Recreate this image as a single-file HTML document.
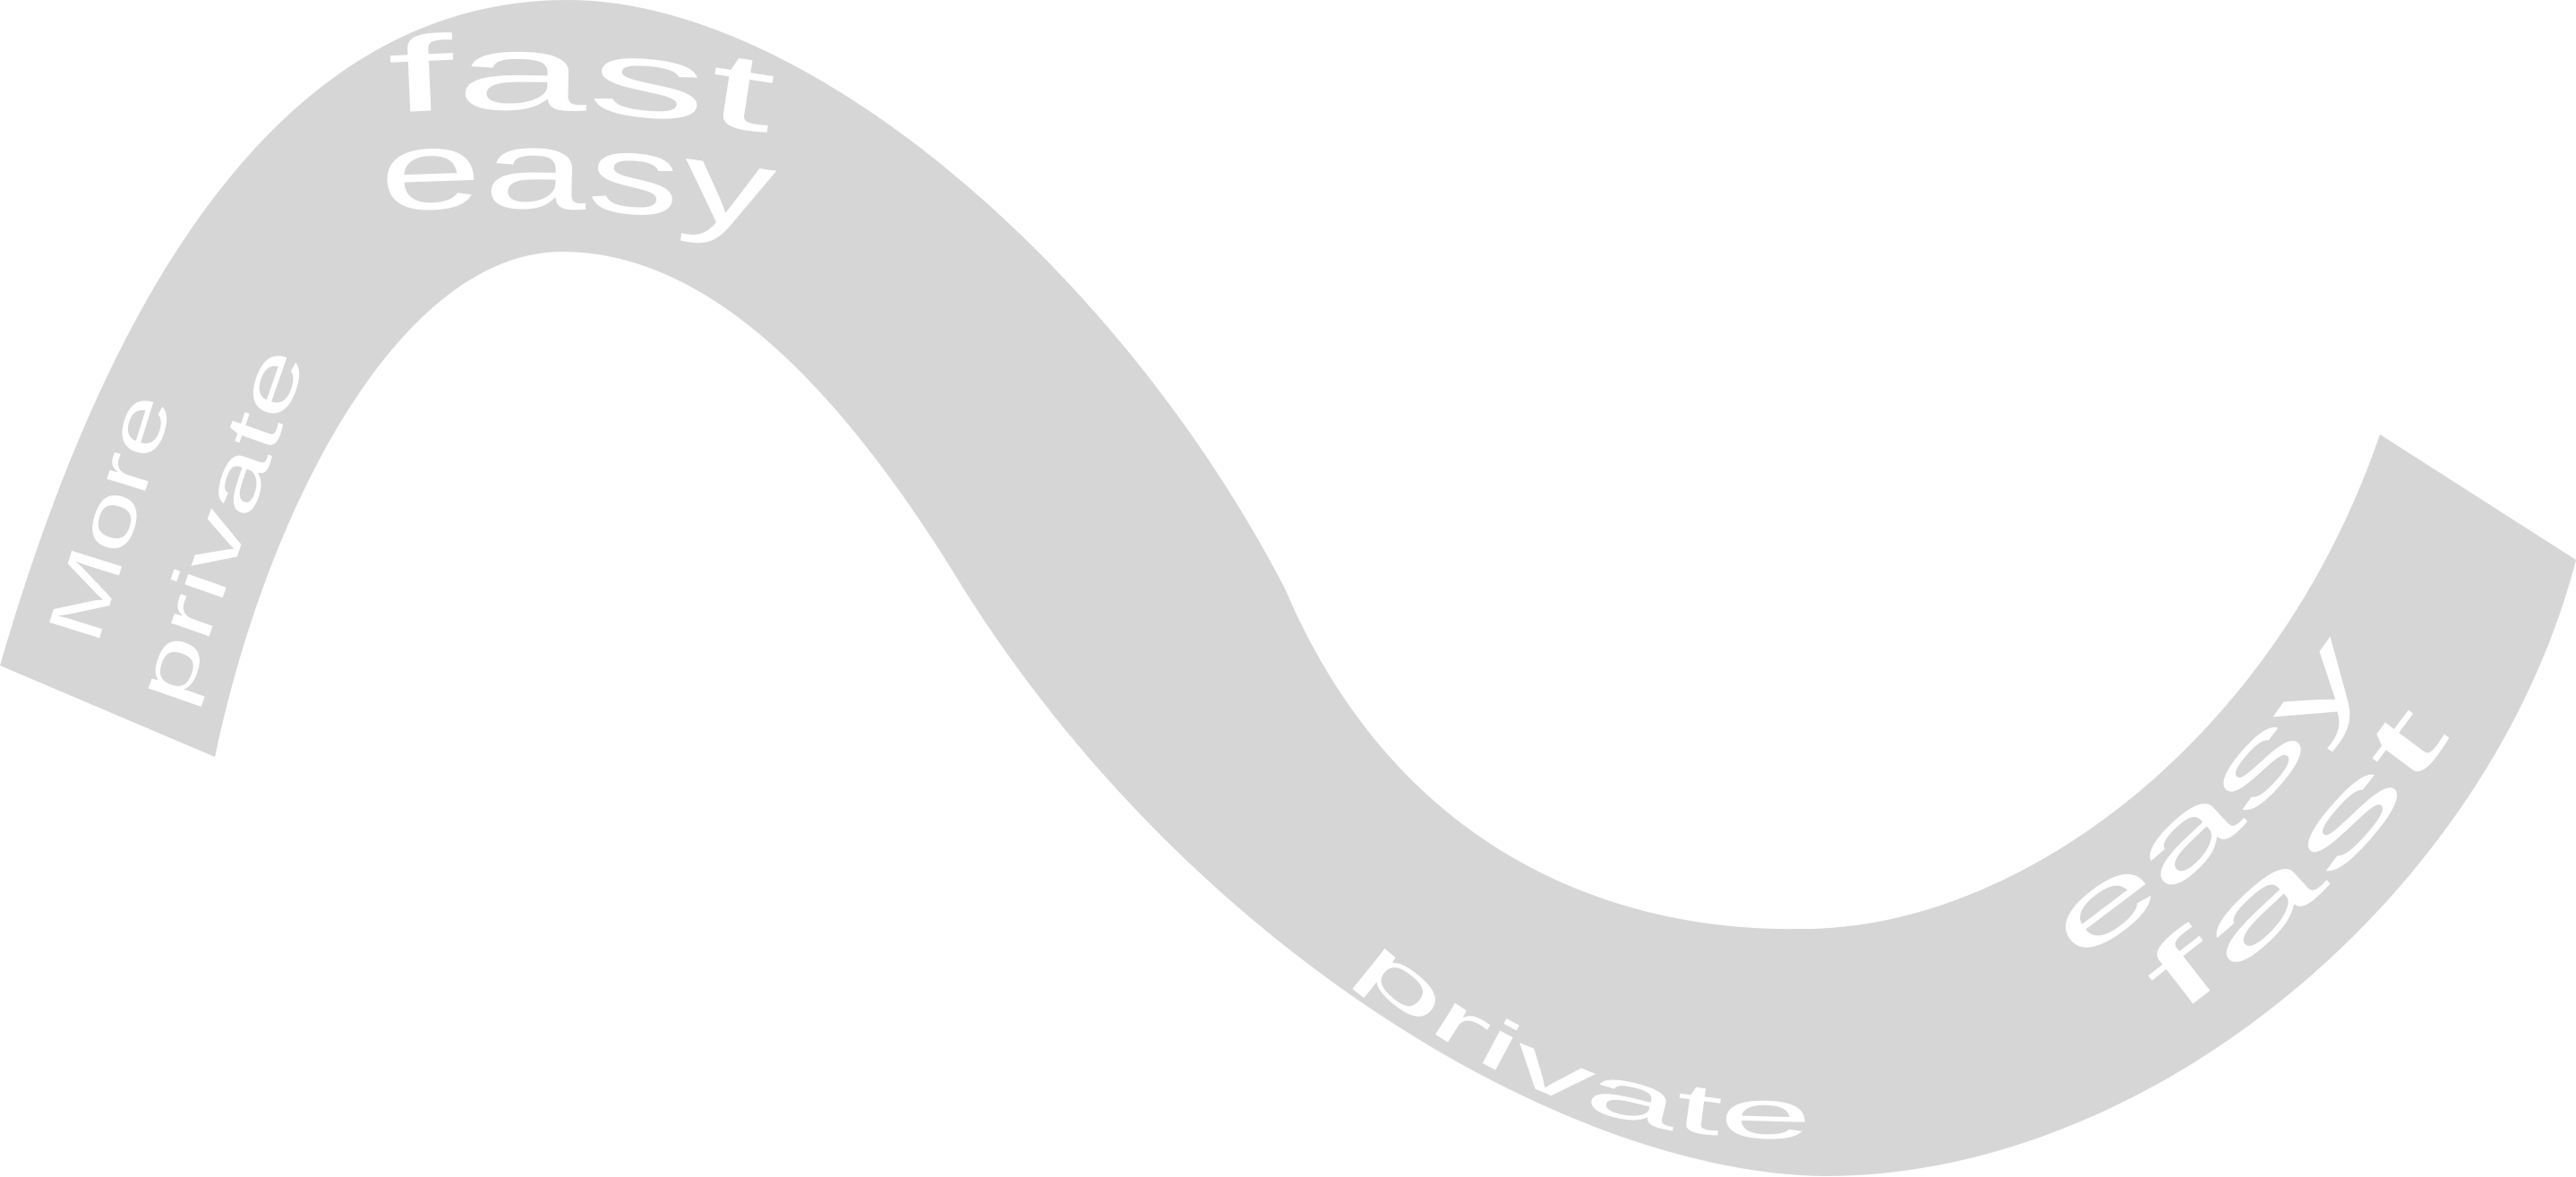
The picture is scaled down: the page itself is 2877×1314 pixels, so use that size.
<!DOCTYPE html>
<html>
<head>
<meta charset="utf-8">
<style>
  html,body{margin:0;padding:0;background:#fff;}
  svg{display:block;}
  text{font-family:"Liberation Sans",sans-serif;fill:#fff;}
</style>
</head>
<body>
<svg id="chart" width="2877" height="1314" viewBox="0 0 2877 1314" xmlns="http://www.w3.org/2000/svg">
  <path id="ribbon" fill="#d6d6d6"
    d="M 0 743
       C 140 260 350 0 634 0
       C 900 0 1250 300 1435 657
       C 1560 950 1800 1040 2009 1037
       C 2250 1040 2540 830 2658 485
       L 2877 625
       C 2780 1000 2400 1313 2039 1313
       C 1750 1310 1330 1060 1076 657
       C 950 450 800 281 628 281
       C 450 281 300 560 240 845
       Z"/>
  <defs>
    <path id="p-fast-top" d="M 435 126 Q 650 112 865 150"/>
    <path id="p-easy-top" d="M 425 236 Q 650 222 865 258"/>
    <path id="p-more" d="M 108 722 L 196 440"/>
    <path id="p-private-left" d="M 205 792 L 345 392"/>
    <path id="p-private-bottom" d="M 1512 1082 Q 1731 1285 2035 1270"/>
    <path id="p-easy-right" d="M 2320 1075 Q 2570 905 2705 640"/>
    <path id="p-fast-right" d="M 2430 1135 Q 2660 965 2805 715"/>
  </defs>
  <text font-size="120"><textPath href="#p-fast-top" textLength="425" lengthAdjust="spacingAndGlyphs">fast</textPath></text>
  <text font-size="125"><textPath href="#p-easy-top" textLength="435" lengthAdjust="spacingAndGlyphs">easy</textPath></text>
  <text font-size="85"><textPath href="#p-more" textLength="285" lengthAdjust="spacingAndGlyphs">More</textPath></text>
  <text font-size="85"><textPath href="#p-private-left" textLength="415" lengthAdjust="spacingAndGlyphs">private</textPath></text>
  <text font-size="78"><textPath href="#p-private-bottom" textLength="560" lengthAdjust="spacingAndGlyphs">private</textPath></text>
  <text font-size="105"><textPath href="#p-easy-right" textLength="470" lengthAdjust="spacingAndGlyphs">easy</textPath></text>
  <text font-size="105"><textPath href="#p-fast-right" textLength="440" lengthAdjust="spacingAndGlyphs">fast</textPath></text>
</svg>
</body>
</html>
